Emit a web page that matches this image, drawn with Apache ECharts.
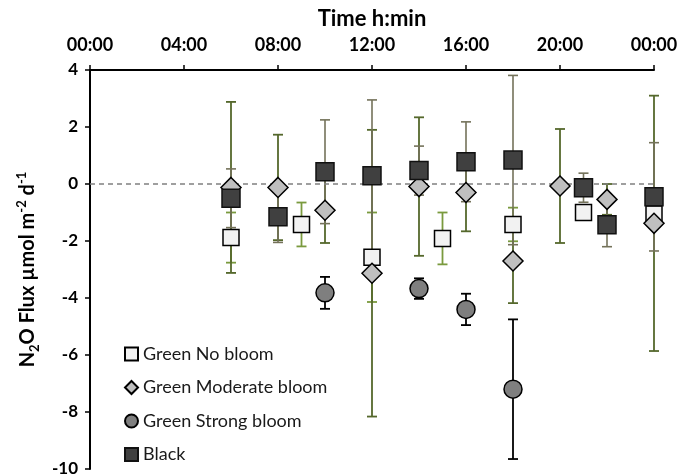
<!DOCTYPE html>
<html>
<head>
<meta charset="utf-8">
<script src="https://cdn.jsdelivr.net/npm/echarts@6/dist/echarts.min.js"></script>
<style>
  html, body { margin: 0; padding: 0; background: #fff; }
  #chart { width: 693px; height: 476px; }
</style>
</head>
<body>
<div id="chart"></div>
<script>
// Sampling times in hours after midnight
const noBloomTimes  = [6, 9, 12, 15, 18, 21, 24];
const noBloomMean   = [-1.88, -1.42, -2.57, -1.91, -1.42, -1.00, -1.05];
const noBloomSD     = [0.88, 0.77, 1.57, 0.91, 0.59, 0.25, 0.30];

const moderateTimes = [6, 8, 10, 12, 14, 16, 18, 20, 22, 24];
const moderateMean  = [-0.12, -0.12, -0.92, -3.13, -0.09, -0.30, -2.70, -0.07, -0.54, -1.38];
const moderateSD    = [3.00, 1.85, 1.15, 5.03, 2.43, 1.36, 1.48, 2.00, 0.54, 4.48];

const strongTimes   = [10, 14, 16, 18];
const strongMean    = [-3.82, -3.67, -4.40, -7.20];
const strongSD      = [0.56, 0.36, 0.55, 2.45];

const blackTimes    = [6, 8, 10, 12, 14, 16, 18, 21, 22, 24];
const blackMean     = [-0.50, -1.15, 0.43, 0.29, 0.47, 0.78, 0.84, -0.13, -1.43, -0.45];
const blackSD       = [1.03, 0.90, 1.82, 2.66, 0.86, 1.40, 2.97, 0.51, 0.77, 1.90];

const seriesNames = ['Green No bloom', 'Green Moderate bloom', 'Green Strong bloom', 'Black'];
const xTickHours = [0, 4, 8, 12, 16, 20, 24];

const FONT = 'Lato, "Open Sans", sans-serif';

function points(times, means) {
  return times.map((t, i) => [t, means[i]]);
}
function errRows(times, means, sds) {
  return times.map((t, i) => [t, means[i], sds[i]]);
}

// Vertical error bar with caps, drawn through the axis scales
function makeErrRender(color, width) {
  return function (params, api) {
    const x = api.value(0), m = api.value(1), s = api.value(2);
    const hi = api.coord([x, m + s]);
    const lo = api.coord([x, m - s]);
    const hw = 5;
    const style = { stroke: color, lineWidth: width };
    return {
      type: 'group',
      children: [
        { type: 'line', shape: { x1: hi[0], y1: hi[1], x2: lo[0], y2: lo[1] }, style },
        { type: 'line', shape: { x1: hi[0] - hw, y1: hi[1], x2: hi[0] + hw, y2: hi[1] }, style },
        { type: 'line', shape: { x1: lo[0] - hw, y1: lo[1], x2: lo[0] + hw, y2: lo[1] }, style }
      ]
    };
  };
}

function errSeries(rows, color, width, z) {
  return {
    type: 'custom',
    renderItem: makeErrRender(color, width),
    data: rows,
    encode: { x: 0, y: 1 },
    silent: true,
    z: z
  };
}

function hhmm(h) {
  const hh = (h % 24).toString().padStart(2, '0');
  return hh + ':00';
}

const chart = echarts.init(document.getElementById('chart'), null, { renderer: 'canvas' });

chart.setOption({
  animation: false,
  backgroundColor: '#ffffff',
  grid: { left: 90, right: 39, top: 70, bottom: 7, containLabel: false, outerBoundsMode: 'none' },
  xAxis: {
    type: 'value',
    position: 'top',
    min: 0, max: 24, interval: 4,
    name: 'Time h:min',
    nameLocation: 'middle',
    nameGap: 40,
    nameTextStyle: { fontFamily: FONT, fontWeight: 'bold', fontSize: 22, color: '#000' },
    axisLine: { onZero: false, lineStyle: { color: '#000', width: 2 } },
    axisTick: { show: true, length: 5, lineStyle: { color: '#000', width: 1.5 } },
    axisLabel: {
      margin: 16,
      fontFamily: FONT, fontWeight: 'bold', fontSize: 18, color: '#000',
      formatter: v => xTickHours.indexOf(v) >= 0 ? hhmm(v) : ''
    },
    splitLine: { show: false }
  },
  yAxis: {
    type: 'value',
    min: -10, max: 4, interval: 2,
    name: '{b|N}{sub|2}{b|O Flux µmol m}{sup|-2}{b| d}{sup|-1}',
    nameLocation: 'middle',
    nameGap: 42,
    nameTextStyle: {
      color: '#000',
      rich: {
        b: { fontFamily: FONT, fontWeight: 'bold', fontSize: 20, color: '#000', lineHeight: 26 },
        sub: { fontFamily: FONT, fontWeight: 'bold', fontSize: 13, color: '#000', verticalAlign: 'bottom', lineHeight: 26 },
        sup: { fontFamily: FONT, fontWeight: 'bold', fontSize: 13, color: '#000', verticalAlign: 'top', lineHeight: 26 }
      }
    },
    axisLine: { show: true, onZero: false, lineStyle: { color: '#000', width: 2 } },
    axisTick: { show: true, length: 5, lineStyle: { color: '#000', width: 1.5 } },
    axisLabel: { margin: 12, fontFamily: FONT, fontWeight: 'bold', fontSize: 17, color: '#000' },
    splitLine: { show: false }
  },
  legend: {
    orient: 'vertical',
    left: 119, top: 340,
    itemWidth: 13, itemHeight: 13,
    itemGap: 15.5,
    textStyle: { fontFamily: FONT, fontSize: 18, color: '#1a1a1a' },
    data: [
      { name: seriesNames[0], icon: 'rect' },
      { name: seriesNames[1], icon: 'diamond' },
      { name: seriesNames[2], icon: 'circle' },
      { name: seriesNames[3], icon: 'rect' }
    ]
  },
  series: [
    // error bars
    errSeries(errRows(noBloomTimes, noBloomMean, noBloomSD), '#7a9a3e', 1.8, 2),
    errSeries(errRows(moderateTimes, moderateMean, moderateSD), '#55682c', 1.8, 2),
    errSeries(errRows(strongTimes, strongMean, strongSD), '#000000', 1.8, 2),
    errSeries(errRows(blackTimes, blackMean, blackSD), '#74725a', 1.6, 2),
    // markers
    {
      name: seriesNames[0], type: 'scatter', z: 5,
      symbol: 'rect', symbolSize: 16,
      itemStyle: { color: '#f2f2f2', borderColor: '#000', borderWidth: 1.5, opacity: 1 },
      data: points(noBloomTimes, noBloomMean),
      markLine: {
        silent: true, symbol: 'none', label: { show: false },
        lineStyle: { color: '#808080', type: [5, 4], width: 1.5 },
        data: [{ yAxis: 0 }]
      }
    },
    {
      name: seriesNames[1], type: 'scatter', z: 6,
      symbol: 'diamond', symbolSize: [20, 20],
      itemStyle: { color: '#bfbfbf', borderColor: '#000', borderWidth: 1.5, opacity: 1 },
      data: points(moderateTimes, moderateMean)
    },
    {
      name: seriesNames[2], type: 'scatter', z: 6,
      symbol: 'circle', symbolSize: [18, 18],
      itemStyle: { color: '#7f7f7f', borderColor: '#000', borderWidth: 1.5, opacity: 1 },
      data: points(strongTimes, strongMean)
    },
    {
      name: seriesNames[3], type: 'scatter', z: 7,
      symbol: 'rect', symbolSize: 18,
      itemStyle: { color: '#404040', borderColor: '#111', borderWidth: 1.5, opacity: 1 },
      data: points(blackTimes, blackMean)
    }
  ]
});
</script>
</body>
</html>
